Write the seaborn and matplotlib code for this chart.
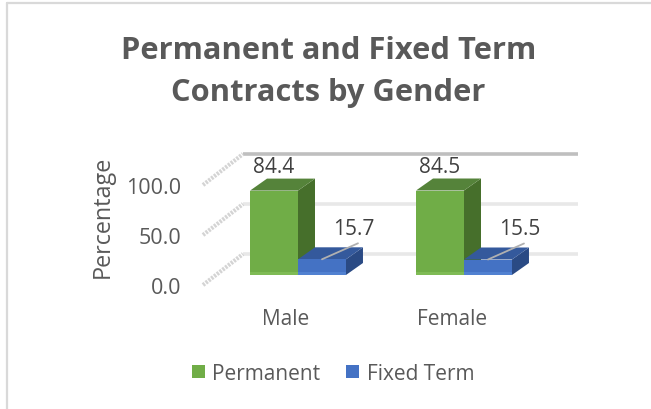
import matplotlib
matplotlib.use("Agg")
import matplotlib.pyplot as plt
import seaborn as sns
import pandas as pd
from matplotlib.patches import Polygon, Patch, Rectangle
from matplotlib.transforms import ScaledTranslation

genders = ["Male", "Female"]
series_names = ["Permanent", "Fixed Term"]
permanent = [84.4, 84.5]
fixed_term = [15.7, 15.5]
y_ticks = [0, 50, 100]
title = "Permanent and Fixed Term\nContracts by Gender"

W, H, DPI = 651, 410, 100
sns.set_theme(style="white")
plt.rcParams["font.family"] = ["Open Sans", "DejaVu Sans"]

df = pd.DataFrame({
    "gender": genders * 2,
    "series": [series_names[0]] * 2 + [series_names[1]] * 2,
    "value": permanent + fixed_term,
})

fig = plt.figure(figsize=(W / DPI, H / DPI), dpi=DPI, facecolor="white")
L, R, T, B = 215, 547, 151, 276
ax = fig.add_axes([L / W, 1 - B / H, (R - L) / W, (B - T) / H])
colors = {"Permanent": "#70ad47", "Fixed Term": "#4472c4"}
sides = {"Permanent": "#466f2b", "Fixed Term": "#2a4a84"}
tops = {"Permanent": "#55833a", "Fixed Term": "#34599c"}
strip = {"Permanent": "#7fbb55", "Fixed Term": "#5181d1"}

sns.barplot(data=df, x="gender", y="value", hue="series", order=genders,
            hue_order=series_names, palette=colors, width=0.578, gap=0,
            saturation=1, legend=False, ax=ax, zorder=5, linewidth=0)
ax.set_xlim(-0.5, 1.5)
ax.set_ylim(0, B - T)
ax.set_xlabel("")
ax.set_ylabel("")
sns.despine(ax=ax, left=True, bottom=True)
ax.patch.set_alpha(0)


def shift(dx, dy):
    return ScaledTranslation(dx / DPI, dy / DPI, fig.dpi_scale_trans)


def to_x(px):
    return (px - L) / (R - L) * 2 - 0.5


# back wall grid lines, raised by the depth of the floor
grid_colors = ["#e8e8e8", "#e8e8e8", "#bfbfbf"]
for v, c in zip(y_ticks, grid_colors):
    ax.plot([to_x(243), to_x(578)], [v, v], color=c, lw=2.6, clip_on=False,
            transform=ax.transData + shift(0, 21), zorder=1, solid_capstyle="butt")
    # side wall: beaded diagonals
    ax.plot([to_x(203), to_x(243)], [v - 10, v + 21], color="#d4d4d4", lw=3,
            ls=(0, (0.55, 0.3)), clip_on=False, zorder=1)

# 3D faces derived from the seaborn bars
dx_px, dy_px = 17, 12
dx = dx_px / (R - L) * 2
dy = dy_px
order = [s for s in series_names for _ in genders]
values = permanent + fixed_term
for patch, name, val in zip(list(ax.patches), order, values):
    x0, w, h = patch.get_x(), patch.get_width(), patch.get_height()
    x1 = x0 + w
    z = 4 if name == "Permanent" else 6
    ax.add_patch(Polygon([(x1, 0), (x1 + dx, dy), (x1 + dx, h + dy), (x1, h)],
                         fc=sides[name], ec="none", zorder=z - 1, clip_on=False))
    ax.add_patch(Polygon([(x0, h), (x1, h), (x1 + dx, h + dy), (x0 + dx, h + dy)],
                         fc=tops[name], ec="none", zorder=z - 1, clip_on=False))
    patch.set_zorder(z)
    ax.add_patch(Rectangle((x0, 0), w, 3, fc=strip[name], ec="none", zorder=z + 0.5))

# data labels
tc = "#404040"
fs = 15
bars = list(ax.patches)[:4]
for i in range(2):
    g, b = bars[i], bars[i + 2]
    ax.text(g.get_x() + g.get_width() / 2, permanent[i] + 24, f"{permanent[i]}",
            ha="center", va="center", fontsize=fs, color=tc, zorder=8, clip_on=False)
    xc = b.get_x() + b.get_width() / 2
    ax.text(xc + to_x(354) - to_x(322), fixed_term[i] + 31, f"{fixed_term[i]}",
            ha="center", va="center", fontsize=fs, color=tc, zorder=8, clip_on=False)
    ax.plot([xc, xc + 31 / (R - L) * 2 + 0.03], [fixed_term[i], fixed_term[i] + 16],
            color="#b0b0b0", lw=1.3, zorder=8, clip_on=False)

# axis texts
ax.set_yticks(y_ticks, [f"{v:.1f}" for v in y_ticks])
ax.tick_params(axis="y", length=0, pad=24.5, labelsize=15.5, labelcolor="#595959")
ax.tick_params(axis="x", length=0, pad=23.5, labelsize=15, labelcolor="#595959")
for lab in ax.get_yticklabels():
    lab.set_transform(lab.get_transform() + shift(0, -10))
for lab in ax.get_xticklabels():
    lab.set_transform(lab.get_transform() + shift(-12, 0))
fig.text(103 / W, 1 - 217 / H, "Percentage", rotation=90, ha="center", va="center",
         fontsize=16.8, color="#595959")

fig.text(328.5 / W, 1 - 72 / H, title, ha="center", va="center", fontsize=22.2,
         fontweight="bold", color="#595959", linespacing=1.5)

handles = [Patch(fc=colors[s], ec="none", label=s) for s in series_names]
fig.legend(handles=handles, loc="center", bbox_to_anchor=(333 / W, 1 - 374.5 / H), ncol=2,
           frameon=False, fontsize=15, labelcolor="#595959", handlelength=0.63,
           handleheight=0.63, handletextpad=0.35, columnspacing=1.25, borderpad=0)

# chart frame: left and top edges only
fig.add_artist(plt.Line2D([6.5 / W, 6.5 / W], [0, 1 - 4 / H], color="#d9d9d9", lw=1.6))
fig.add_artist(plt.Line2D([6.5 / W, 1], [1 - 4 / H, 1 - 4 / H], color="#d9d9d9", lw=1.6))

fig.savefig("out.png", dpi=DPI)
